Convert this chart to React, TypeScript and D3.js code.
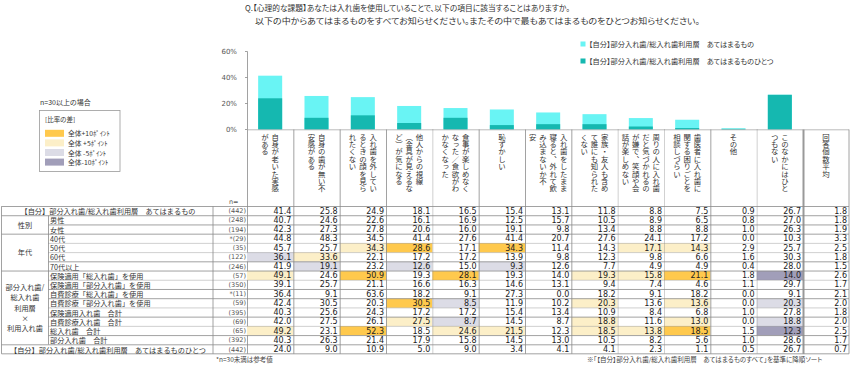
import React from "react";
import * as d3 from "d3";

// ---------- data ----------
const titleLines = [
  "Q.【心理的な課題】あなたは入れ歯を使用していることで、以下の項目に該当することはありますか。",
  "以下の中からあてはまるものをすべてお知らせください。またその中で最もあてはまるものをひとつお知らせください。",
];

const categories = [
  "自身が老いた実感がある",
  "自身の歯が無い不安感がある",
  "入れ歯を外しているときの顔を見られたくない",
  "他人からの視線（金具が見えるなど）が気になる",
  "食事が楽しめなくなった／食欲がわかなくなった",
  "恥ずかしい",
  "入れ歯をしたまま寝ると、外れて飲み込まないか不安",
  "家族・友人も含めて誰にも知られたくない",
  "周りの人に入れ歯だと気づかれるのが嫌で、笑顔や会話が楽しめない",
  "歯医者に入れ歯に関する困りごとを相談しづらい",
  "その他",
  "このなかにはひとつもない",
];

const categoryLines = [
  ["自身が老いた実感", "がある"],
  ["自身の歯が無い不", "安感がある"],
  ["入れ歯を外してい", "るときの顔を見ら", "れたくない"],
  ["他人からの視線", "（金具が見えるな", "ど）が気になる"],
  ["食事が楽しめなく", "なった／食欲がわ", "かなくなった"],
  ["恥ずかしい"],
  ["入れ歯をしたまま", "寝ると、外れて飲", "み込まないか不", "安"],
  ["家族・友人も含め", "て誰にも知られた", "くない"],
  ["周りの人に入れ歯", "だと気づかれるの", "が嫌で、笑顔や会", "話が楽しめない"],
  ["歯医者に入れ歯に", "関する困りごとを", "相談しづらい"],
  ["その他"],
  ["このなかにはひと", "つもない"],
  ["回答個数平均"],
];

const yTicks = [0, 20, 40, 60];

const seriesNames = [
  "【自分】部分入れ歯/総入れ歯利用層　あてはまるもの",
  "【自分】部分入れ歯/総入れ歯利用層　あてはまるものひとつ",
];

const rowLabels = [
  "【自分】部分入れ歯/総入れ歯利用層　あてはまるもの",
  "男性",
  "女性",
  "40代",
  "50代",
  "60代",
  "70代以上",
  "保険適用「総入れ歯」を使用",
  "保険適用「部分入れ歯」を使用",
  "自費診療「総入れ歯」を使用",
  "自費診療「部分入れ歯」を使用",
  "保険適用入れ歯　合計",
  "自費診療入れ歯　合計",
  "総入れ歯　合計",
  "部分入れ歯　合計",
  "【自分】部分入れ歯/総入れ歯利用層　あてはまるものひとつ",
];
const nLabels = ["(442)", "(248)", "(194)", "*(29)", "(35)", "(122)", "(246)", "(57)", "(350)", "*(11)", "(59)", "(395)", "(69)", "(65)", "(392)", "(442)"];
const nValues = [442, 248, 194, 29, 35, 122, 246, 57, 350, 11, 59, 395, 69, 65, 392, 442];

const rowTotal = [41.4, 25.8, 24.9, 18.1, 16.5, 15.4, 13.1, 11.8, 8.8, 7.5, 0.9, 26.7, 1.8];
const rowMale = [40.7, 24.6, 22.6, 16.1, 16.9, 12.5, 15.7, 10.5, 8.9, 6.5, 0.8, 27.0, 1.8];
const rowFemale = [42.3, 27.3, 27.8, 20.6, 16.0, 19.1, 9.8, 13.4, 8.8, 8.8, 1.0, 26.3, 1.9];
const row40s = [44.8, 48.3, 34.5, 41.4, 27.6, 41.4, 20.7, 27.6, 24.1, 17.2, 0.0, 10.3, 3.3];
const row50s = [45.7, 25.7, 34.3, 28.6, 17.1, 34.3, 11.4, 14.3, 17.1, 14.3, 2.9, 25.7, 2.5];
const row60s = [36.1, 33.6, 22.1, 17.2, 17.2, 13.9, 9.8, 12.3, 9.8, 6.6, 1.6, 30.3, 1.8];
const row70s = [41.9, 19.1, 23.2, 12.6, 15.0, 9.3, 12.6, 7.7, 4.9, 4.9, 0.4, 28.0, 1.5];
const rowInsFull = [49.1, 24.6, 50.9, 19.3, 28.1, 19.3, 14.0, 19.3, 15.8, 21.1, 1.8, 14.0, 2.6];
const rowInsPartial = [39.1, 25.7, 21.1, 16.6, 16.3, 14.6, 13.1, 9.4, 7.4, 4.6, 1.1, 29.7, 1.7];
const rowSelfFull = [36.4, 9.1, 63.6, 18.2, 9.1, 27.3, 0.0, 18.2, 9.1, 18.2, 0.0, 9.1, 2.1];
const rowSelfPartial = [42.4, 30.5, 20.3, 30.5, 8.5, 11.9, 10.2, 20.3, 13.6, 13.6, 0.0, 20.3, 2.0];
const rowInsSum = [40.3, 25.6, 24.3, 17.2, 17.2, 15.4, 13.4, 10.9, 8.4, 6.8, 1.0, 27.8, 1.8];
const rowSelfSum = [42.0, 27.5, 26.1, 27.5, 8.7, 14.5, 8.7, 18.8, 11.6, 13.0, 0.0, 18.8, 2.0];
const rowFullSum = [49.2, 23.1, 52.3, 18.5, 24.6, 21.5, 12.3, 18.5, 13.8, 18.5, 1.5, 12.3, 2.5];
const rowPartialSum = [40.3, 26.3, 21.4, 17.9, 15.8, 14.5, 13.0, 10.5, 8.2, 5.6, 1.0, 28.6, 1.7];
const rowOne = [24.0, 9.0, 10.9, 5.0, 9.0, 3.4, 4.1, 4.1, 2.3, 1.1, 0.5, 26.7, 0.7];

const groupLabels = [
  { lines: ["性別"], from: 1, to: 2 },
  { lines: ["年代"], from: 3, to: 6 },
  { lines: ["部分入れ歯/", "総入れ歯", "利用層", "×", "利用入れ歯"], from: 7, to: 14 },
];

const legendDiffLabels = ["全体+10ﾎﾟｲﾝﾄ", "全体 +5ﾎﾟｲﾝﾄ", "全体 -5ﾎﾟｲﾝﾄ", "全体-10ﾎﾟｲﾝﾄ"];

// ---------- style ----------
const JP = "'Noto Sans CJK JP', 'Noto Sans', sans-serif";
const NUM = "'DejaVu Sans', sans-serif";
const LIGHT = "#69F4F4";
const DARK = "#15B8B0";
const HL = { p10: "#FFC94D", p5: "#FCEFC8", m5: "#DCDCE6", m10: "#A19EB9" };
const LINE = "#8a8a8a";

export default function App() {
  const allRows = [rowTotal, rowMale, rowFemale, row40s, row50s, row60s, row70s, rowInsFull, rowInsPartial, rowSelfFull, rowSelfPartial, rowInsSum, rowSelfSum, rowFullSum, rowPartialSum, rowOne];

  const COL0 = 247;
  const COLEND = 803;
  const RIGHT = 849;
  const x = d3.scaleBand<string>().domain(categories).range([COL0, COLEND]).padding(0);
  const step = x.step();
  const barW = 24;
  const y = d3.scaleLinear().domain([0, 60]).range([129.5, 51.5]);

  const TOP = 206.3;
  const rowH = 9.22;
  const ry = d3.scaleBand<number>().domain(d3.range(16)).range([TOP, TOP + 16 * rowH]).padding(0);
  const BOTTOM = TOP + 16 * rowH;

  const colX = (c: number) => (c < 12 ? (x(categories[c]) as number) : COLEND);
  const colW = (c: number) => (c < 12 ? step : RIGHT - COLEND);

  const hl = (r: number, c: number) => {
    if (r === 0 || r === 15 || c >= 12 || nValues[r] < 30) return null;
    const d = allRows[r][c] - rowTotal[c];
    if (d >= 9.95) return HL.p10;
    if (d >= 4.95) return HL.p5;
    if (d <= -9.95) return HL.m10;
    if (d <= -4.95) return HL.m5;
    return null;
  };

  const rowBorder = ["group", "group", "solid", "group", "dot", "dot", "solid", "group", "dot", "solid", "solid", "dot", "solid", "dot", "solid", "group"];
  const dottedCols = new Set([4, 8, 9, 11]);

  return (
    <svg width={850} height={368} style={{ position: "absolute", left: 0, top: 0, background: "#fff" }}>
      {/* title */}
      <text x={245} y={7.5} fontFamily={JP} fontSize={7.9} fill="#333" dominantBaseline="central" textLength={325} lengthAdjust="spacingAndGlyphs" style={{ fontFeatureSettings: "'palt'" }}>
        {titleLines[0]}
      </text>
      <text x={255} y={19.5} fontFamily={JP} fontSize={8.2} fill="#333" dominantBaseline="central" textLength={445} lengthAdjust="spacingAndGlyphs" style={{ fontFeatureSettings: "'palt'" }}>
        {titleLines[1]}
      </text>

      {/* top legend */}
      {seriesNames.map((s, i) => (
        <g key={s}>
          <rect x={580.5} y={41.5 + i * 17} width={5} height={5} fill={i === 0 ? LIGHT : DARK} />
          <text x={589} y={44 + i * 17} fontFamily={JP} fontSize={7.2} fill="#333" dominantBaseline="central" style={{ fontFeatureSettings: "'palt'" }}>
            {s}
          </text>
        </g>
      ))}

      {/* left legend */}
      <text x={40} y={101.5} fontFamily={JP} fontSize={7} fill="#333" dominantBaseline="central" style={{ fontFeatureSettings: "'palt'" }}>
        n=30以上の場合
      </text>
      <rect x={39.5} y={110.5} width={80.5} height={61} fill="#fff" stroke="#999" strokeWidth={0.8} />
      <text x={45} y={118.5} fontFamily={JP} fontSize={6.5} fill="#333" dominantBaseline="central" style={{ fontFeatureSettings: "'palt'" }}>
        [比率の差]
      </text>
      {legendDiffLabels.map((l, i) => (
        <g key={l}>
          <rect x={45} y={129.8 + i * 9.6} width={19} height={7} fill={[HL.p10, HL.p5, HL.m5, HL.m10][i]} />
          <text x={68} y={133.3 + i * 9.6} fontFamily={JP} fontSize={6.8} fill="#333" dominantBaseline="central" style={{ fontFeatureSettings: "'palt'" }}>
            {l}
          </text>
        </g>
      ))}

      {/* y axis */}
      <line x1={COL0 + 0.5} x2={COL0 + 0.5} y1={y(60)} y2={BOTTOM} stroke={LINE} strokeWidth={0.8} />
      {yTicks.map((t) => (
        <g key={t}>
          <line x1={COL0 - 2} x2={COL0 + 0.5} y1={y(t)} y2={y(t)} stroke={LINE} strokeWidth={0.8} />
          <text x={237} y={y(t)} textAnchor="end" fontFamily={NUM} fontSize={7} fill="#555" dominantBaseline="central">
            {t}%
          </text>
        </g>
      ))}

      {/* bars */}
      {categories.map((c, i) => {
        const bx = (x(c) as number) + (step - barW) / 2;
        return (
          <g key={c}>
            <rect x={bx} y={y(rowTotal[i])} width={barW} height={y(0) - y(rowTotal[i])} fill={LIGHT} />
            <rect x={bx} y={y(rowOne[i])} width={barW} height={y(0) - y(rowOne[i])} fill={DARK} />
          </g>
        );
      })}
      <line x1={COL0} x2={RIGHT} y1={y(0) + 0.3} y2={y(0) + 0.3} stroke="#aaa" strokeWidth={0.8} />

      {/* header labels (vertical) */}
      {categoryLines.map((lines, c) => {
        const cx = colX(c) + colW(c) / 2;
        const sp = 10.3;
        return lines.map((ln, j) => (
          <text
            key={c + "-" + j}
            x={cx + ((lines.length - 1) / 2 - j) * sp}
            y={133}
            fontFamily={JP}
            fontSize={7.4}
            fill="#333"
            style={{ writingMode: "vertical-rl" }}
          >
            {ln}
          </text>
        ));
      })}

      <text x={229} y={202} fontFamily={NUM} fontSize={6.5} fill="#555" dominantBaseline="central">
        n=
      </text>

      {/* highlight fills */}
      {allRows.map((row, r) =>
        row.map((v, c) => {
          const f = hl(r, c);
          return f ? <rect key={r + "_" + c} x={colX(c)} y={ry(r) as number} width={colW(c)} height={rowH} fill={f} /> : null;
        })
      )}

      {/* vertical grid lines */}
      {d3.range(1, 12).map((k) => (
        <line
          key={"v" + k}
          x1={colX(k) + 0.5}
          x2={colX(k) + 0.5}
          y1={y(0)}
          y2={BOTTOM}
          stroke={LINE}
          strokeWidth={0.8}
          strokeDasharray={dottedCols.has(k) ? "1,1" : undefined}
        />
      ))}
      <line x1={COLEND + 0.5} x2={COLEND + 0.5} y1={y(0)} y2={BOTTOM} stroke="#999" strokeWidth={2} />
      <line x1={RIGHT} x2={RIGHT} y1={y(0)} y2={BOTTOM} stroke={LINE} strokeWidth={0.8} />
      <line x1={1.5} x2={1.5} y1={TOP} y2={BOTTOM} stroke={LINE} strokeWidth={0.8} />
      <line x1={213} x2={213} y1={TOP} y2={BOTTOM} stroke={LINE} strokeWidth={0.8} />
      <line x1={48.5} x2={48.5} y1={ry(1) as number} y2={(ry(14) as number) + rowH} stroke={LINE} strokeWidth={0.8} />

      {/* horizontal lines */}
      {rowBorder.map((b, r) => {
        const yy = (ry(r) as number) + 0.2;
        return (
          <line
            key={"h" + r}
            x1={b === "group" ? 1.5 : 48.5}
            x2={RIGHT}
            y1={yy}
            y2={yy}
            stroke={LINE}
            strokeWidth={0.8}
            strokeDasharray={b === "dot" ? "1,1" : undefined}
          />
        );
      })}
      <line x1={1.5} x2={RIGHT} y1={BOTTOM} y2={BOTTOM} stroke={LINE} strokeWidth={0.8} />

      {/* group labels */}
      {groupLabels.map((g) => {
        const cy = ((ry(g.from) as number) + (ry(g.to) as number) + rowH) / 2;
        const lh = 10.3;
        return g.lines.map((ln, j) => (
          <text
            key={g.lines[0] + j}
            x={25}
            y={cy + (j - (g.lines.length - 1) / 2) * lh}
            textAnchor="middle"
            fontFamily={JP}
            fontSize={7.2}
            fill="#333"
            dominantBaseline="central"
          >
            {ln}
          </text>
        ));
      })}

      {/* row labels, n, values */}
      {allRows.map((row, r) => {
        const cy = (ry(r) as number) + rowH / 2 + 0.3;
        const full = r === 0 || r === 15;
        return (
          <g key={"r" + r}>
            <text
              x={full ? 108 : 50}
              y={cy}
              textAnchor={full ? "middle" : "start"}
              fontFamily={JP}
              fontSize={7.2}
              fill="#333"
              dominantBaseline="central"
            >
              {rowLabels[r]}
            </text>
            <text x={246} y={cy} textAnchor="end" fontFamily={NUM} fontSize={6.5} fill="#555" dominantBaseline="central">
              {nLabels[r]}
            </text>
            {row.map((v, c) => (
              <text
                key={c}
                x={colX(c) + colW(c) - 2}
                y={cy}
                textAnchor="end"
                fontFamily={NUM}
                fontSize={8}
                fill="#222"
                dominantBaseline="central"
              >
                {v.toFixed(1)}
              </text>
            ))}
          </g>
        );
      })}

      {/* footnotes */}
      <text x={216} y={359} fontFamily={JP} fontSize={6.5} fill="#444" dominantBaseline="central" style={{ fontFeatureSettings: "'palt'" }}>
        *n=30未満は参考値
      </text>
      <text x={587} y={359} fontFamily={JP} fontSize={6.5} fill="#444" dominantBaseline="central" style={{ fontFeatureSettings: "'palt'" }}>
        ※「【自分】部分入れ歯/総入れ歯利用層　あてはまるものすべて」を基準に降順ソート
      </text>
    </svg>
  );
}
